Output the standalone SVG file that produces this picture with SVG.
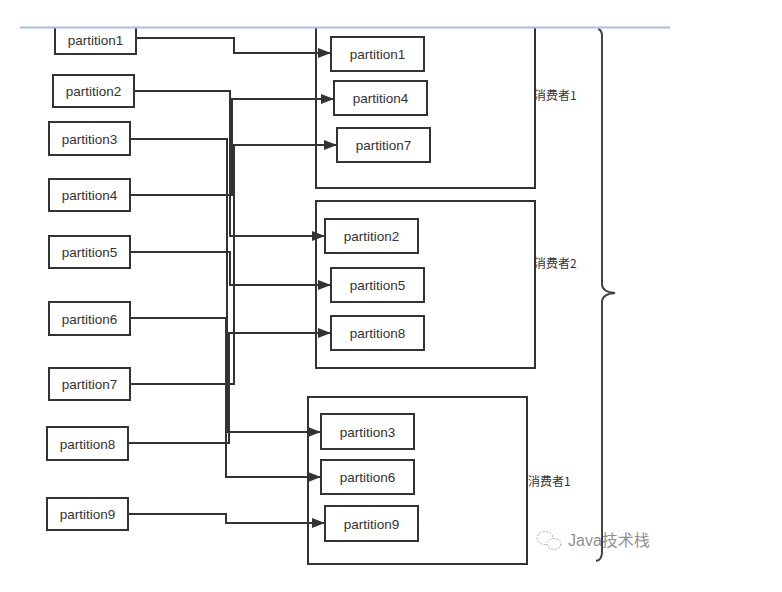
<svg xmlns="http://www.w3.org/2000/svg" width="782" height="592" viewBox="0 0 782 592">
<style>
.box{fill:#fff;stroke:#333;stroke-width:2}
.grp{fill:none;stroke:#333;stroke-width:2}
.t{font-family:"Liberation Sans","Noto Sans CJK SC",sans-serif;font-size:13.5px;fill:#333;text-anchor:middle}
.lbl{font-family:"Noto Sans CJK SC","Liberation Sans",sans-serif;font-size:12px;fill:#333}
.c{fill:none;stroke:#333;stroke-width:2}
</style>
<defs>
<marker id="arr" markerUnits="userSpaceOnUse" markerWidth="14" markerHeight="10" refX="13" refY="5" orient="auto">
<path d="M0,0 L13,5 L0,10 z" fill="#333"/>
</marker>
<clipPath id="clip"><rect x="0" y="28" width="782" height="564"/></clipPath>
</defs>
<rect width="782" height="592" fill="#fff"/>
<g clip-path="url(#clip)">
<g id="consumer1">
<rect class="grp" x="316" y="18" width="219" height="170"/>
<text class="lbl" x="534" y="100">消费者1</text>
</g>
<g id="consumer2">
<rect class="grp" x="316" y="201" width="219" height="167"/>
<text class="lbl" x="534" y="268">消费者2</text>
</g>
<g id="consumer3">
<rect class="grp" x="308" y="397" width="219" height="167"/>
<text class="lbl" x="528" y="486">消费者1</text>
</g>
<g id="src1"><rect class="box" x="55" y="20" width="81" height="34"/><text class="t" x="95.5" y="44.5">partition1</text></g>
<g id="src2"><rect class="box" x="53" y="75" width="81" height="32"/><text class="t" x="93.5" y="96">partition2</text></g>
<g id="src3"><rect class="box" x="49" y="122" width="81" height="33"/><text class="t" x="89.5" y="143.5">partition3</text></g>
<g id="src4"><rect class="box" x="49" y="179" width="81" height="32"/><text class="t" x="89.5" y="200">partition4</text></g>
<g id="src5"><rect class="box" x="49" y="236" width="81" height="32"/><text class="t" x="89.5" y="257">partition5</text></g>
<g id="src6"><rect class="box" x="49" y="302" width="81" height="33"/><text class="t" x="89.5" y="323.5">partition6</text></g>
<g id="src7"><rect class="box" x="49" y="368" width="81" height="32"/><text class="t" x="89.5" y="389">partition7</text></g>
<g id="src8"><rect class="box" x="47" y="427" width="81" height="33"/><text class="t" x="87.5" y="448.5">partition8</text></g>
<g id="src9"><rect class="box" x="47" y="498" width="81" height="32"/><text class="t" x="87.5" y="519">partition9</text></g>
<g id="dst1"><rect class="box" x="331" y="37" width="93" height="34"/><text class="t" x="377.5" y="59">partition1</text></g>
<g id="dst4"><rect class="box" x="334" y="81" width="93" height="34"/><text class="t" x="380.5" y="103">partition4</text></g>
<g id="dst7"><rect class="box" x="337" y="128" width="93" height="34"/><text class="t" x="383.5" y="150">partition7</text></g>
<g id="dst2"><rect class="box" x="325" y="219" width="93" height="34"/><text class="t" x="371.5" y="241">partition2</text></g>
<g id="dst5"><rect class="box" x="331" y="268" width="93" height="34"/><text class="t" x="377.5" y="290">partition5</text></g>
<g id="dst8"><rect class="box" x="331" y="316" width="93" height="34"/><text class="t" x="377.5" y="338">partition8</text></g>
<g id="dst3"><rect class="box" x="321" y="414" width="93" height="35"/><text class="t" x="367.5" y="436.5">partition3</text></g>
<g id="dst6"><rect class="box" x="321" y="460" width="93" height="34"/><text class="t" x="367.5" y="482">partition6</text></g>
<g id="dst9"><rect class="box" x="325" y="506" width="93" height="35"/><text class="t" x="371.5" y="528.5">partition9</text></g>
<g id="connectors">
<path class="c" marker-end="url(#arr)" d="M136,38 H234 V53 H331"/>
<path class="c" marker-end="url(#arr)" d="M134,91 H230 V236 H325"/>
<path class="c" marker-end="url(#arr)" d="M130,139 H227 V432 H321"/>
<path class="c" marker-end="url(#arr)" d="M130,195 H232 V99 H334"/>
<path class="c" marker-end="url(#arr)" d="M130,252 H230 V285 H331"/>
<path class="c" marker-end="url(#arr)" d="M130,318 H226 V477 H321"/>
<path class="c" marker-end="url(#arr)" d="M130,384 H234 V145 H337"/>
<path class="c" marker-end="url(#arr)" d="M128,443 H229 V333 H331"/>
<path class="c" marker-end="url(#arr)" d="M128,514 H226 V523 H325"/>
</g>
<g id="brace">
<path d="M598,29 Q602,30 602,36 V284 Q602,292 615,293 Q602,294 602,302 V552 Q602,560 596,561" fill="none" stroke="#444" stroke-width="2"/>
</g>
</g>
<line x1="20" y1="27.5" x2="670" y2="27.5" stroke="#a9c1d8" stroke-width="2"/>
<g id="watermark" opacity="0.65">
<ellipse cx="545" cy="538" rx="8" ry="6.5" fill="none" stroke="#777" stroke-width="1" stroke-dasharray="2,1.5"/>
<ellipse cx="554" cy="544" rx="7" ry="5.5" fill="#fff" stroke="#777" stroke-width="1" stroke-dasharray="2,1.5"/>
<text x="568" y="546" font-family="Liberation Sans,'Noto Sans CJK SC',sans-serif" font-size="16" fill="#555">Java技术栈</text>
</g>
</svg>
